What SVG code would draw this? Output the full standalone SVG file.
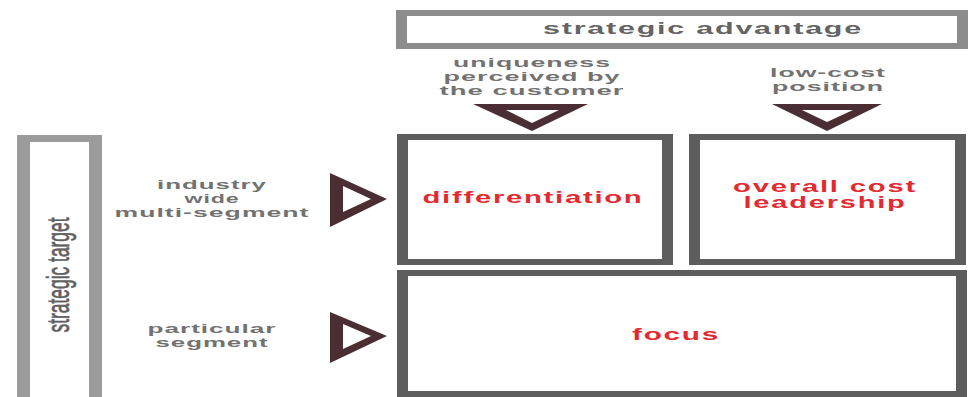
<svg xmlns="http://www.w3.org/2000/svg" width="970" height="397" viewBox="0 0 970 397">
  <style>
    .frame-light { fill: #8c8c8c; fill-rule: evenodd; }
    .frame-side { fill: #9b9b9b; }
    .frame-dark { fill: #5d5d5d; fill-rule: evenodd; }
    .arrow { fill: #4b2e34; fill-rule: evenodd; }
    .label { font-family: "Liberation Sans", Arial, sans-serif; font-weight: bold; font-size: 13.5px; fill: #727272; text-anchor: middle; letter-spacing: 0.5px; }
    .label.tight { font-size: 13px; }
    .title { font-family: "Liberation Sans", Arial, sans-serif; font-weight: bold; font-size: 17px; fill: #646464; text-anchor: middle; letter-spacing: 1px; }
    .axis { font-family: "Liberation Sans", Arial, sans-serif; font-size: 31px; fill: #606060; stroke: #606060; stroke-width: 0.7px; text-anchor: middle; }
    .strategy { font-family: "Liberation Sans", Arial, sans-serif; font-weight: bold; font-size: 17px; fill: #e42a30; text-anchor: middle; letter-spacing: 1px; }
    .strategy.tight { font-size: 16px; }
  </style>
  <rect width="970" height="397" fill="#ffffff"/>

  <!-- column header -->
  <g id="strategic-advantage">
    <path class="frame-light" d="M396 10H968V49H396Z M407 16V43H957V16Z"/>
    <text class="title" x="703" y="34" textLength="320" lengthAdjust="spacingAndGlyphs">strategic advantage</text>
  </g>

  <!-- row header -->
  <g id="strategic-target">
    <path class="frame-side" d="M17 397V135H102V397H89V142H30V397Z"/>
    <text class="axis" transform="translate(69,275) rotate(-90)" textLength="115" lengthAdjust="spacingAndGlyphs">strategic target</text>
  </g>

  <!-- column labels -->
  <g id="label-uniqueness">
    <text class="label" x="532" y="67" textLength="158" lengthAdjust="spacingAndGlyphs">uniqueness</text>
    <text class="label" x="532" y="81" textLength="177" lengthAdjust="spacingAndGlyphs">perceived by</text>
    <text class="label" x="532" y="95" textLength="185" lengthAdjust="spacingAndGlyphs">the customer</text>
  </g>
  <g id="label-low-cost">
    <text class="label" x="828" y="77" textLength="116" lengthAdjust="spacingAndGlyphs">low-cost</text>
    <text class="label" x="828" y="91" textLength="112" lengthAdjust="spacingAndGlyphs">position</text>
  </g>

  <!-- row labels -->
  <g id="label-industry-wide">
    <text class="label tight" x="212" y="189" textLength="110" lengthAdjust="spacingAndGlyphs">industry</text>
    <text class="label tight" x="212" y="203" textLength="55" lengthAdjust="spacingAndGlyphs">wide</text>
    <text class="label tight" x="212" y="217" textLength="195" lengthAdjust="spacingAndGlyphs">multi-segment</text>
  </g>
  <g id="label-particular-segment">
    <text class="label" x="212" y="333" textLength="129" lengthAdjust="spacingAndGlyphs">particular</text>
    <text class="label" x="212" y="347" textLength="113" lengthAdjust="spacingAndGlyphs">segment</text>
  </g>

  <!-- hollow pointers -->
  <g id="connectors">
    <path class="arrow" d="M473 104H588L532 131Z M506 110L532 123L559 110Z"/>
    <path class="arrow" d="M772 104H882L827 131Z M802 110L827 122L853 110Z"/>
    <path class="arrow" d="M330 173V227L387 199Z M343 186V212L371 199Z"/>
    <path class="arrow" d="M330 312V363L387 336Z M343 324V349L371 336Z"/>
  </g>

  <!-- strategy cells -->
  <g id="differentiation">
    <path class="frame-dark" d="M397 134H673V265H397Z M408 140V259H662V140Z"/>
    <text class="strategy" x="533" y="203" textLength="221" lengthAdjust="spacingAndGlyphs">differentiation</text>
  </g>
  <g id="overall-cost-leadership">
    <path class="frame-dark" d="M689 134H966V265H689Z M700 140V259H955V140Z"/>
    <text class="strategy tight" x="825" y="192" textLength="184" lengthAdjust="spacingAndGlyphs">overall cost</text>
    <text class="strategy tight" x="825" y="208" textLength="163" lengthAdjust="spacingAndGlyphs">leadership</text>
  </g>
  <g id="focus">
    <path class="frame-dark" d="M397 270H967V397H397Z M408 276V391H956V276Z"/>
    <text class="strategy" x="676" y="340" textLength="88" lengthAdjust="spacingAndGlyphs">focus</text>
  </g>
</svg>
